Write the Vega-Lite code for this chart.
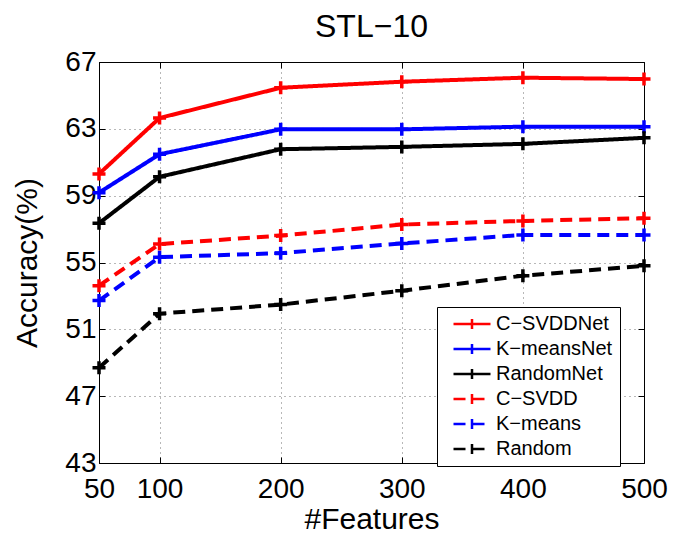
{
  "$schema": "https://vega.github.io/schema/vega-lite/v6.json",
  "width": 545,
  "height": 401,
  "autosize": "none",
  "padding": {"left": 99, "top": 62, "right": 39, "bottom": 72},
  "background": "white",
  "title": {"text": "STL−10", "font": "Liberation Sans", "fontSize": 32, "fontWeight": "normal", "color": "#000", "offset": 4},
  "config": {
    "view": {"stroke": "#000", "strokeWidth": 1},
    "axis": {
      "labelFont": "Liberation Sans", "labelFontSize": 28, "labelColor": "#000",
      "titleFont": "Liberation Sans", "titleFontSize": 30, "titleFontWeight": "normal", "titleColor": "#000",
      "domainColor": "#000", "tickColor": "#000", "tickSize": -6, "labelPadding": 9,
      "gridColor": "#000", "gridDash": [1, 4], "gridOpacity": 0.7, "gridWidth": 0.8
    }
  },
  "data": {"values": [
    {"features": 50, "acc": 60.3, "series": "C−SVDDNet"},
    {"features": 100, "acc": 63.65, "series": "C−SVDDNet"},
    {"features": 200, "acc": 65.46, "series": "C−SVDDNet"},
    {"features": 300, "acc": 65.82, "series": "C−SVDDNet"},
    {"features": 400, "acc": 66.06, "series": "C−SVDDNet"},
    {"features": 500, "acc": 65.98, "series": "C−SVDDNet"},
    {"features": 50, "acc": 59.18, "series": "K−meansNet"},
    {"features": 100, "acc": 61.48, "series": "K−meansNet"},
    {"features": 200, "acc": 62.97, "series": "K−meansNet"},
    {"features": 300, "acc": 62.97, "series": "K−meansNet"},
    {"features": 400, "acc": 63.13, "series": "K−meansNet"},
    {"features": 500, "acc": 63.13, "series": "K−meansNet"},
    {"features": 50, "acc": 57.35, "series": "RandomNet"},
    {"features": 100, "acc": 60.13, "series": "RandomNet"},
    {"features": 200, "acc": 61.78, "series": "RandomNet"},
    {"features": 300, "acc": 61.92, "series": "RandomNet"},
    {"features": 400, "acc": 62.1, "series": "RandomNet"},
    {"features": 500, "acc": 62.46, "series": "RandomNet"},
    {"features": 50, "acc": 53.61, "series": "C−SVDD"},
    {"features": 100, "acc": 56.1, "series": "C−SVDD"},
    {"features": 200, "acc": 56.61, "series": "C−SVDD"},
    {"features": 300, "acc": 57.27, "series": "C−SVDD"},
    {"features": 400, "acc": 57.49, "series": "C−SVDD"},
    {"features": 500, "acc": 57.65, "series": "C−SVDD"},
    {"features": 50, "acc": 52.72, "series": "K−means"},
    {"features": 100, "acc": 55.32, "series": "K−means"},
    {"features": 200, "acc": 55.56, "series": "K−means"},
    {"features": 300, "acc": 56.14, "series": "K−means"},
    {"features": 400, "acc": 56.65, "series": "K−means"},
    {"features": 500, "acc": 56.65, "series": "K−means"},
    {"features": 50, "acc": 48.7, "series": "Random"},
    {"features": 100, "acc": 51.94, "series": "Random"},
    {"features": 200, "acc": 52.48, "series": "Random"},
    {"features": 300, "acc": 53.31, "series": "Random"},
    {"features": 400, "acc": 54.21, "series": "Random"},
    {"features": 500, "acc": 54.8, "series": "Random"}
  ]},
  "resolve": {"axis": {"x": "independent", "y": "independent"}},
  "layer": [
    {
      "mark": {"type": "line", "strokeWidth": 4},
      "encoding": {
        "x": {"field": "features", "type": "quantitative", "scale": {"domain": [50, 500], "nice": false, "zero": false},
              "axis": {"values": [50, 100, 200, 300, 400, 500], "title": "#Features", "titlePadding": 1, "grid": true, "labelFlush": false, "labelOverlap": false, "labelPadding": 18}},
        "y": {"field": "acc", "type": "quantitative", "scale": {"domain": [43, 67], "nice": false, "zero": false},
              "axis": {"values": [43, 47, 51, 55, 59, 63, 67], "title": "Accuracy(%)", "titlePadding": 22, "grid": true, "labelFlush": false, "labelOverlap": false}},
        "color": {"field": "series", "type": "nominal",
          "scale": {"domain": ["C−SVDDNet", "K−meansNet", "RandomNet", "C−SVDD", "K−means", "Random"],
                    "range": ["#ff0000", "#0000ff", "#000000", "#ff0000", "#0000ff", "#000000"]},
          "legend": {"title": null, "orient": "none", "legendX": 338, "legendY": 245,
            "symbolType": "M-3.7,0H3.7M0,-1V1", "symbolSize": 100, "symbolStrokeWidth": 2.5,
            "labelFont": "Liberation Sans", "labelFontSize": 20, "labelColor": "#000",
            "strokeColor": "#000", "fillColor": "#fff", "padding": 7, "rowPadding": 5, "labelOffset": 14, "symbolOffset": 18}},
        "strokeDash": {"field": "series", "type": "nominal",
          "scale": {"domain": ["C−SVDDNet", "K−meansNet", "RandomNet", "C−SVDD", "K−means", "Random"],
                    "range": [[1, 0], [1, 0], [1, 0], [12, 7], [12, 7], [12, 7]]},
          "legend": {"title": null}}
      }
    },
    {
      "mark": {"type": "point", "shape": "M-1,0H1M0,-1V1", "filled": false, "size": 169, "strokeWidth": 3.5, "opacity": 1},
      "encoding": {
        "x": {"field": "features", "type": "quantitative", "scale": {"domain": [50, 500], "nice": false, "zero": false},
              "axis": {"orient": "top", "values": [50, 100, 200, 300, 400, 500], "labels": false, "title": null, "grid": false, "domain": false}},
        "y": {"field": "acc", "type": "quantitative", "scale": {"domain": [43, 67], "nice": false, "zero": false},
              "axis": {"orient": "right", "values": [43, 47, 51, 55, 59, 63, 67], "labels": false, "title": null, "grid": false, "domain": false}},
        "color": {"field": "series", "type": "nominal",
          "scale": {"domain": ["C−SVDDNet", "K−meansNet", "RandomNet", "C−SVDD", "K−means", "Random"],
                    "range": ["#ff0000", "#0000ff", "#000000", "#ff0000", "#0000ff", "#000000"]},
          "legend": null}
      }
    }
  ]
}
